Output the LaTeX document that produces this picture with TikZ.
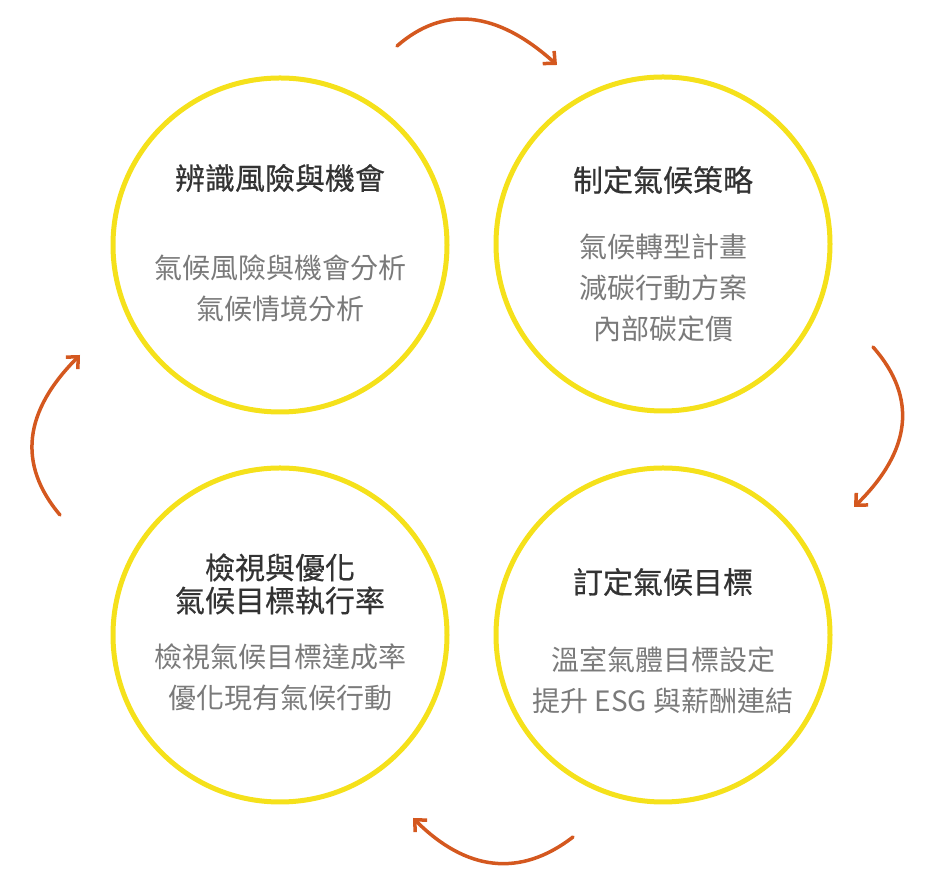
\documentclass[tikz,border=0pt]{standalone}
\usepackage{fontspec}
\usepackage{xcolor}
\usetikzlibrary{positioning,calc,arrows.meta}
\setmainfont{Noto Sans CJK TC}
\newfontfamily\headfont[FakeBold=0.5]{Noto Sans CJK TC}

\definecolor{ringyellow}{HTML}{F5E11B}
\definecolor{arroworange}{HTML}{D4581F}
\definecolor{headgray}{HTML}{333333}
\definecolor{bodygray}{HTML}{7A7A7A}

\tikzset{
    ring/.style={circle, draw=ringyellow, line width=5pt, minimum size=334pt, inner sep=0pt},
    heading/.style={text=headgray, align=center, font=\headfont\fontsize{30}{33}\selectfont},
    detail/.style={text=bodygray, align=center, font=\fontsize{28}{41}\selectfont},
    cyclearrow/.style={draw=arroworange, line width=3.5pt, line cap=round,
        -{Straight Barb[length=9pt,width=17pt,line width=3.5pt]}}
}

\begin{document}
\begin{tikzpicture}[x=1pt,y=1pt]
    \useasboundingbox (0,0) rectangle (930,888);

    % Stages
    \node[ring] (identify) at (280,643) {};
    \node[ring] (strategy) at (663,644) {};
    \node[ring] (target)   at (663,253) {};
    \node[ring] (review)   at (280,253) {};

    \node[heading] (identifyhead) at (280,710) {辨識風險與機會};
    \node[detail]  (identifybody) at (280,600) {氣候風險與機會分析\\氣候情境分析};

    \node[heading] (strategyhead) at (663,708) {制定氣候策略};
    \node[detail]  (strategybody) at (663,600) {氣候轉型計畫\\減碳行動方案\\內部碳定價};

    \node[heading] (targethead) at (663,306) {訂定氣候目標};
    \node[detail]  (targetbody) at (663,208) {溫室氣體目標設定\\提升 ESG 與薪酬連結};

    \node[heading] (reviewhead) at (280,304) {檢視與優化\\氣候目標執行率};
    \node[detail]  (reviewbody) at (280,211) {檢視氣候目標達成率\\優化現有氣候行動};

    % Cycle
    \coordinate (topstart) at (397,842);
    \coordinate (topend) at (557,823);
    \coordinate (rightstart) at (873,541);
    \coordinate (rightend) at (854,381);
    \coordinate (bottomstart) at (573,51);
    \coordinate (bottomend) at (413,70);
    \coordinate (leftstart) at (60,373);
    \coordinate (leftend) at (80,533);

    \draw[cyclearrow] (topstart) .. controls (444,883) and (497,877) .. (topend);
    \draw[cyclearrow] (rightstart) .. controls (918,490) and (911,437) .. (rightend);
    \draw[cyclearrow] (bottomstart) .. controls (520,10) and (466,17) .. (bottomend);
    \draw[cyclearrow] (leftstart) .. controls (17,424) and (24,477) .. (leftend);
\end{tikzpicture}
\end{document}
